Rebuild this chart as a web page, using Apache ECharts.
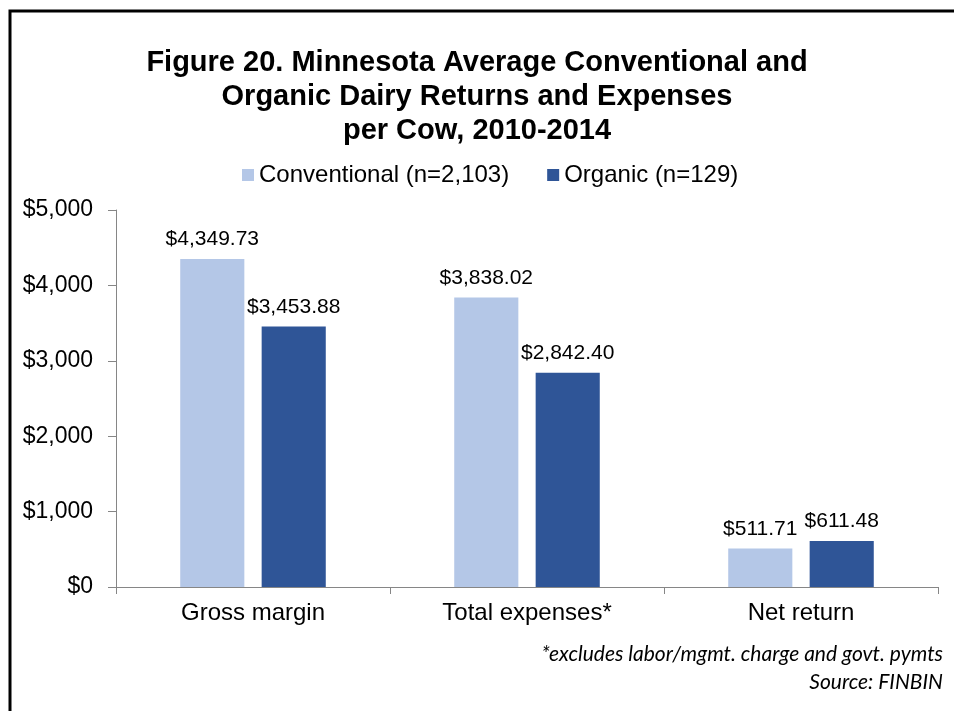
<!DOCTYPE html>
<html>
<head>
<meta charset="utf-8">
<script src="https://cdn.jsdelivr.net/npm/echarts@6/dist/echarts.min.js"></script>
<style>
  html, body { margin: 0; padding: 0; background: #fff; }
  #chart { width: 954px; height: 711px; }
</style>
</head>
<body>
<div id="chart"></div>
<script>
const categories = ['Gross margin', 'Total expenses*', 'Net return'];
const conventional = [4349.73, 3838.02, 511.71];
const organic = [3453.88, 2842.40, 611.48];
const seriesNames = ['Conventional (n=2,103)', 'Organic (n=129)'];
const titleLines = [
    'Figure 20. Minnesota Average Conventional and',
    'Organic Dairy Returns and Expenses',
    'per Cow, 2010-2014',
];
const footnotes = ['*excludes labor/mgmt. charge and govt. pymts', 'Source: FINBIN'];

const money = (v, digits) =>
    '$' + v.toLocaleString('en-US', { minimumFractionDigits: digits, maximumFractionDigits: digits });

const font = '"Liberation Sans", Arial, sans-serif';
const noteFont = 'italic 21px Lato, "Open Sans", sans-serif';

const chart = echarts.init(document.getElementById('chart'));

const barLabel = {
    show: true,
    position: 'top',
    distance: 9,
    fontFamily: font,
    fontSize: 21,
    color: '#000',
    formatter: (p) => money(p.value, 2),
};

chart.setOption({
    animation: false,
    textStyle: { fontFamily: font },
    title: {
        text: titleLines.join('\n'),
        left: 'center',
        top: 41,
        textStyle: {
            fontFamily: font,
            fontSize: 29,
            fontWeight: 'bold',
            lineHeight: 34,
            color: '#000',
        },
    },
    legend: {
        left: 242,
        top: 163,
        padding: 0,
        itemWidth: 12,
        itemHeight: 12,
        itemGap: 38,
        icon: 'rect',
        textStyle: { fontFamily: font, fontSize: 24, color: '#000' },
        data: seriesNames,
    },
    grid: { left: 116, top: 210, right: 16, bottom: 124 },
    xAxis: {
        type: 'category',
        data: categories,
        axisLine: { lineStyle: { color: '#868686', width: 1 } },
        axisTick: { show: true, length: 7, lineStyle: { color: '#868686' } },
        axisLabel: { fontFamily: font, fontSize: 24, color: '#000', margin: 14 },
    },
    yAxis: {
        type: 'value',
        min: 0,
        max: 5000,
        interval: 1000,
        splitLine: { show: false },
        axisLine: { show: true, lineStyle: { color: '#868686', width: 1 } },
        axisTick: { show: true, length: 8, lineStyle: { color: '#868686' } },
        axisLabel: {
            fontFamily: font,
            fontSize: 23,
            color: '#000',
            margin: 23,
            formatter: (v) => money(v, 0),
        },
    },
    series: [
        {
            name: seriesNames[0],
            type: 'bar',
            data: conventional,
            barWidth: '23.4%',
            barGap: '27%',
            itemStyle: { color: '#B4C7E7' },
            label: barLabel,
        },
        {
            name: seriesNames[1],
            type: 'bar',
            data: organic,
            barWidth: '23.4%',
            itemStyle: { color: '#2F5597' },
            label: barLabel,
        },
    ],
    graphic: [
        {
            type: 'rect',
            shape: { x: 10, y: 11, width: 980, height: 760 },
            style: { fill: null, stroke: '#000', lineWidth: 3 },
            silent: true,
        },
        {
            type: 'text',
            right: 11,
            top: 644,
            style: { text: footnotes[0], font: noteFont, fill: '#000', textAlign: 'right' },
        },
        {
            type: 'text',
            right: 11,
            top: 672,
            style: { text: footnotes[1], font: noteFont, fill: '#000', textAlign: 'right' },
        },
    ],
});

window.addEventListener('resize', chart.resize);
</script>
</body>
</html>
